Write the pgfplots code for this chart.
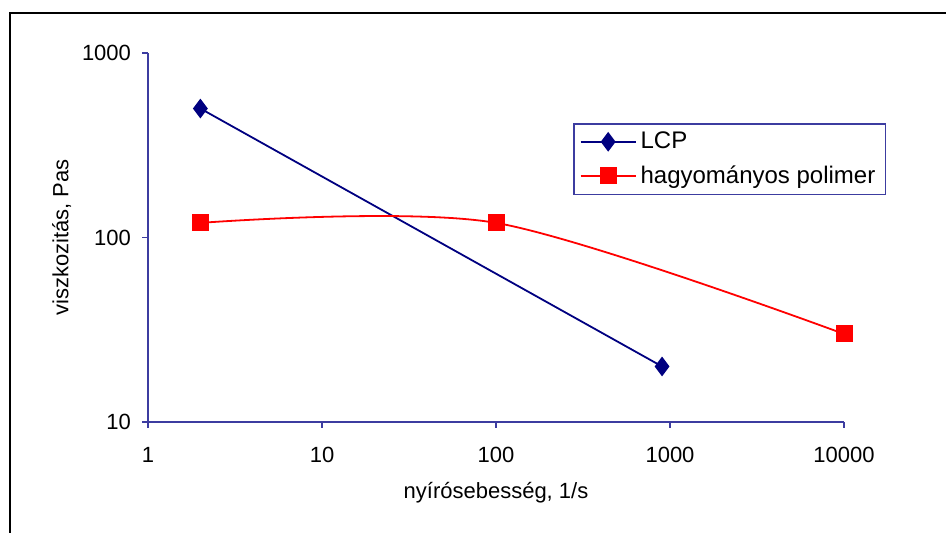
\documentclass[border=0pt]{standalone}
\usepackage{pgfplots}
\pgfplotsset{compat=1.18}
\usepackage{fontspec}
\setmainfont{Liberation Sans}
\definecolor{axblue}{RGB}{60,60,160}
\definecolor{lcpnavy}{RGB}{0,0,128}
\begin{document}
\begin{tikzpicture}[font=\fontsize{11}{13}\selectfont]
\useasboundingbox (0,0) rectangle (473pt,266.5pt);
\draw[line width=1pt] (5pt,-2pt) -- (5pt,260pt) -- (476pt,260pt);
\begin{axis}[
  at={(74pt,55.5pt)}, anchor=south west,
  scale only axis, width=348pt, height=184.5pt,
  xmode=log, ymode=log,
  xmin=1, xmax=10000, ymin=10, ymax=1000,
  axis x line=bottom, axis y line=left,
  axis line style={axblue, line width=0.8pt, -},
  xtick={1,10,100,1000,10000}, xticklabels={1,10,100,1000,10000},
  ytick={10,100,1000}, yticklabels={10,100,1000},
  xminorticks=false, yminorticks=false,
  tick align=outside, major tick length=3pt,
  tick style={axblue, line width=0.8pt},
  xticklabel style={anchor=north, yshift=-6pt, font=\fontsize{11}{13}\selectfont},
  yticklabel style={anchor=east, xshift=-2pt, font=\fontsize{11}{13}\selectfont},
  xlabel={nyírósebesség, 1/s},
  ylabel={viszkozitás, Pas},
  xlabel style={at={(axis description cs:0.5,0)}, anchor=center, yshift=-35.5pt},
  every axis y label/.append style={at={(axis description cs:-0.124,0.5)}, anchor=center},
  legend style={at={(rel axis cs:0.6106,0.81)}, anchor=north west,
    draw=axblue, line width=0.8pt, font=\fontsize{12}{14}\selectfont,
    inner xsep=3pt, inner ysep=2pt, row sep=3pt, cells={anchor=west}},
  legend cell align=left,
  legend image code/.code={\draw[#1] (0pt,0pt) -- (27.5pt,0pt); \draw[#1, only marks] plot coordinates {(13.75pt,0pt)};},
  clip=false,
]
\addplot[lcpnavy, line width=0.9pt, mark=diamond*, mark size=4.2pt, mark options={solid, fill=lcpnavy, draw=lcpnavy}]
  coordinates {(2,500) (900,20)};
\addlegendentry{LCP}
\addplot[red, line width=0.9pt, smooth, mark=square*, mark size=3.8pt, mark options={solid, fill=red, draw=red}]
  coordinates {(2,120) (100,120) (10000,30)};
\addlegendentry{hagyományos polimer}
\end{axis}
\end{tikzpicture}
\end{document}
